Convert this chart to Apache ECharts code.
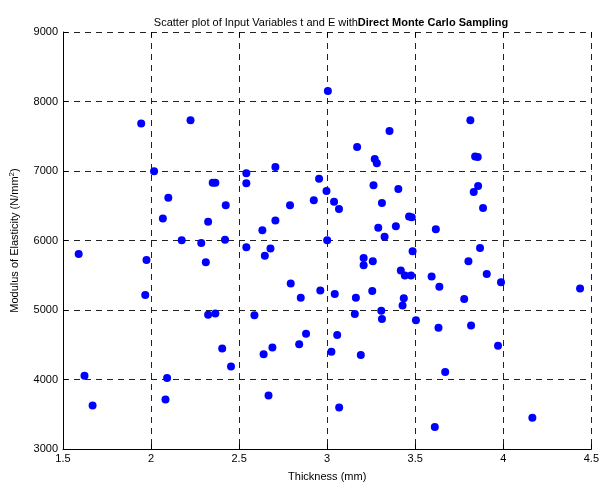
<!DOCTYPE html>
<html>
<head>
<meta charset="utf-8">
<script src="https://cdn.jsdelivr.net/npm/echarts@6/dist/echarts.min.js"></script>
<style>html,body{margin:0;padding:0;background:#fff}#c{width:602px;height:487px}</style>
</head>
<body>
<div id="c"></div>
<script>
const thickness = [1.944,2.224,2.017,2.541,2.35,2.365,2.541,2.098,2.424,2.067,2.324,2.174,2.285,2.42,2.541,1.589,1.974,2.311,
1.967,2.324,2.365,2.587,2.404,2.454,1.622,2.091,1.668,2.082,
3.004,3.354,3.17,3.27,3.282,2.706,2.954,2.996,3.263,3.404,2.924,2.789,3.039,3.067,3.311,3.465,3.48,2.706,2.632,3.29,3.39,3.617,3.326,3.0,2.678,2.646,3.485,3.207,3.259,3.207,
3.418,3.441,3.476,3.593,3.637,2.793,2.961,3.043,3.163,3.256,2.85,3.435,3.428,3.307,3.157,3.311,3.504,3.632,2.88,3.057,2.841,2.689,2.639,3.024,3.191,3.67,2.667,3.068,3.611,
3.813,3.84,3.855,3.857,3.832,3.885,3.868,3.802,3.906,3.987,4.436,3.778,3.817,3.97,4.165];
const modulus = [7685,7731,6996,6968,6832,6832,6822,6615,6507,6318,6271,6002,5964,6012,5903,5804,5719,5687,
5215,4932,4951,4923,4447,4188,4055,4023,3627,3712,
8150,7576,7346,7172,7110,7058,6889,6714,6794,6742,6578,6507,6558,6455,6540,6345,6335,6289,6148,6182,6205,6162,6054,6002,5885,5780,5847,5748,5701,5644,
5568,5497,5497,5483,5333,5380,5281,5229,5178,5272,5178,5168,5064,4989,4942,4871,4853,4744,4659,4640,4508,4461,4362,4400,4352,4107,3768,3598,3315,
7731,7210,7200,6784,6699,6469,5893,5701,5517,5398,5309,5158,4776,4485,3450];
const xTicks = [1.5, 4.5, 0.5];
const yTicks = [3000, 9000, 1000];

const points = thickness.map((t, i) => [t, modulus[i]]);
const font = 'Liberation Sans, Arial, sans-serif';
const dash = { color: '#222', width: 1, type: [6, 5] };

const chart = echarts.init(document.getElementById('c'), null, { renderer: 'canvas' });
chart.setOption({
  animation: false,
  backgroundColor: '#fff',
  title: {
    text: '{n|Scatter plot of Input Variables t and E with}{b|Direct Monte Carlo Sampling}',
    left: 326, top: 12, textAlign: 'center',
    textStyle: {
      fontWeight: 'normal', fontFamily: font, fontSize: 11, color: '#000',
      rich: {
        n: { fontFamily: font, fontSize: 11, color: '#000', fontWeight: 'normal' },
        b: { fontFamily: font, fontSize: 11, color: '#000', fontWeight: 'bold' }
      }
    }
  },
  grid: { left: 57, right: 8, top: 32, bottom: 33, containLabel: false },
  xAxis: [{
    type: 'value', min: xTicks[0], max: xTicks[1], interval: xTicks[2],
    name: 'Thickness (mm)', nameLocation: 'middle', nameGap: 22,
    nameTextStyle: { fontFamily: font, fontSize: 11, color: '#000' },
    axisLine: { show: true, onZero: false, lineStyle: { color: '#000', width: 1 } },
    axisTick: { show: true, inside: true, length: 5, lineStyle: { color: '#000' } },
    axisLabel: { fontFamily: font, fontSize: 11, color: '#000', margin: 4, formatter: v => String(v) },
    splitLine: { show: true, lineStyle: dash }
  }, {
    type: 'value', position: 'top', min: xTicks[0], max: xTicks[1], interval: xTicks[2],
    axisLine: { show: false },
    axisTick: { show: true, inside: true, length: 5, lineStyle: { color: '#000' } },
    axisLabel: { show: false }, splitLine: { show: false }
  }],
  yAxis: {
    type: 'value', min: yTicks[0], max: yTicks[1], interval: yTicks[2],
    name: 'Modulus of Elasticity (N/mm{s|2})', nameLocation: 'middle', nameGap: 41,
    nameTextStyle: { fontFamily: font, fontSize: 11, color: '#000',
      rich: { s: { fontFamily: font, fontSize: 8, color: '#000', verticalAlign: 'top', padding: [0, 0, 6, 0] } } },
    axisLine: { show: true, onZero: false, lineStyle: { color: '#000', width: 1 } },
    axisTick: { show: true, inside: true, length: 5, lineStyle: { color: '#000' } },
    axisLabel: { fontFamily: font, fontSize: 11, color: '#000', margin: 5, formatter: v => String(v) },
    splitLine: { show: true, lineStyle: dash }
  },
  series: [{
    type: 'scatter', data: points, symbol: 'circle', symbolSize: 8,
    itemStyle: { color: '#0000ff', opacity: 1 }
  }]
});
</script>
</body>
</html>
